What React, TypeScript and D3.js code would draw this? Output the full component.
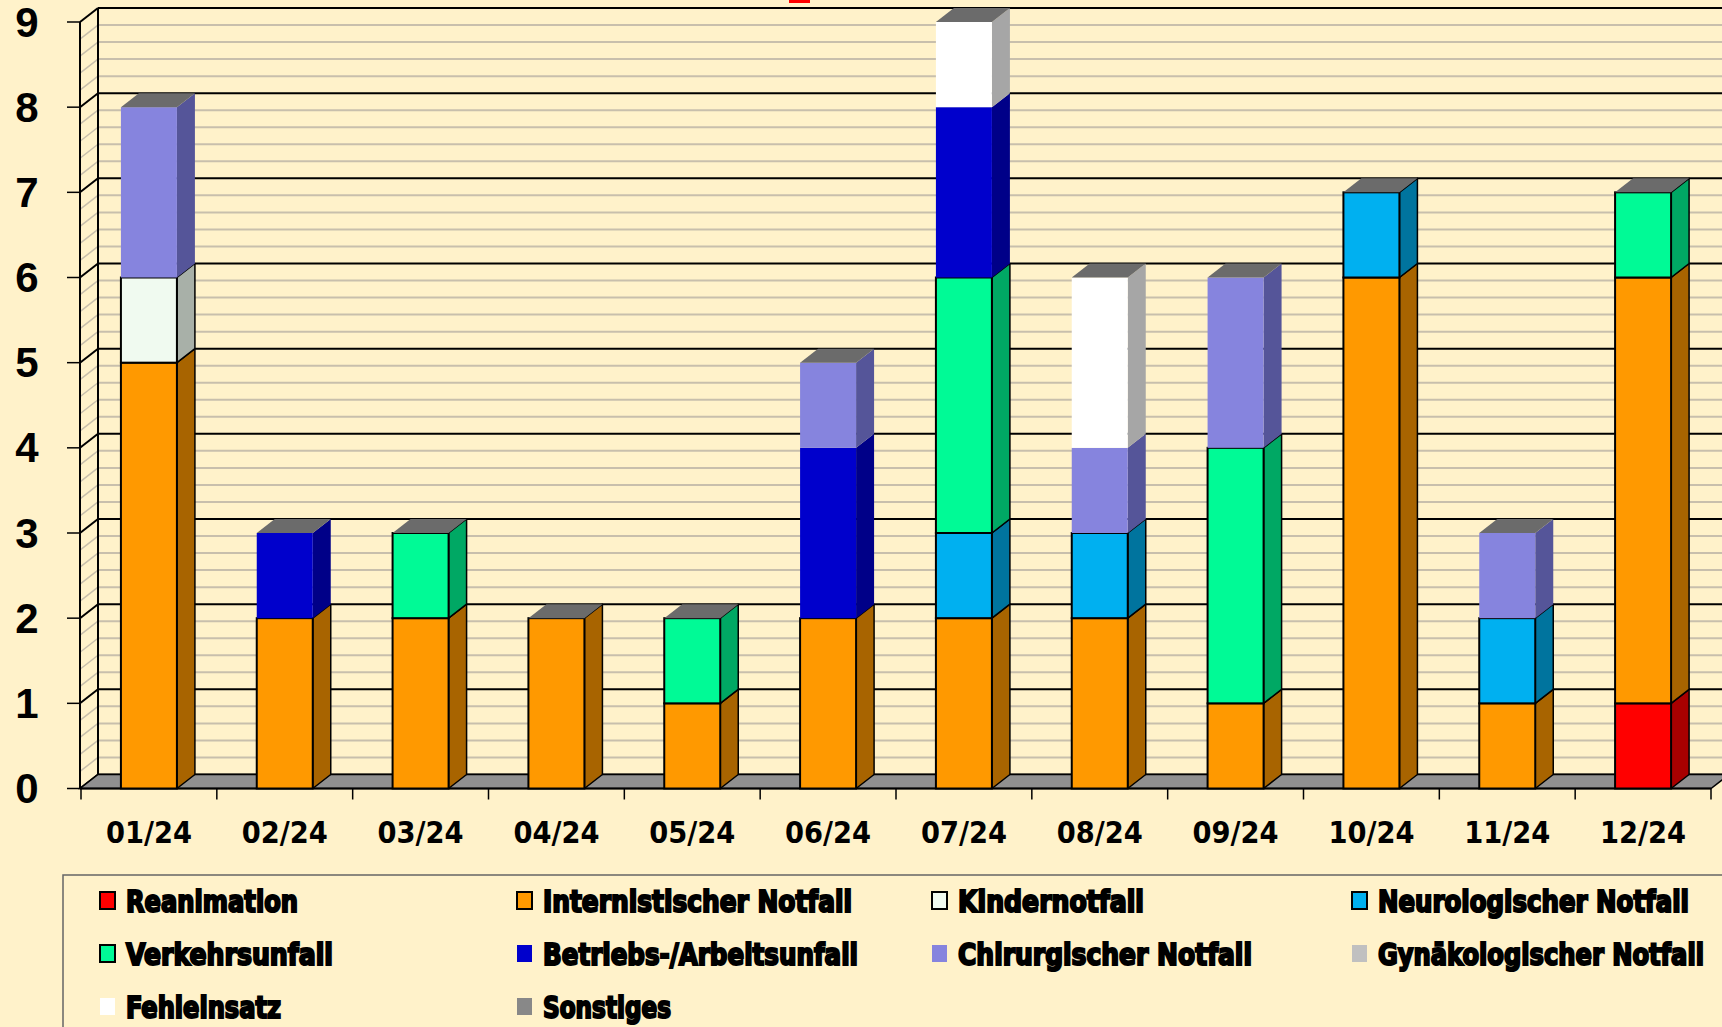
import React from "react";
import * as d3 from "d3";

const categories = ["01/24","02/24","03/24","04/24","05/24","06/24","07/24","08/24","09/24","10/24","11/24","12/24"];
const seriesNames = ["Reanimation","Internistischer Notfall","Kindernotfall","Neurologischer Notfall","Verkehrsunfall","Betriebs-/Arbeitsunfall","Chirurgischer Notfall","Gynäkologischer Notfall","Fehleinsatz","Sonstiges"];
const reanimation = [0,0,0,0,0,0,0,0,0,0,0,1];
const internist = [5,2,2,2,1,2,2,2,1,6,1,5];
const kinder = [1,0,0,0,0,0,0,0,0,0,0,0];
const neuro = [0,0,0,0,0,0,1,1,0,1,1,0];
const verkehr = [0,0,1,0,1,0,3,0,3,0,0,1];
const betrieb = [0,1,0,0,0,2,2,0,0,0,0,0];
const chirurg = [2,0,0,0,0,1,0,1,2,0,1,0];
const gyn = [0,0,0,0,0,0,0,0,0,0,0,0];
const fehl = [0,0,0,0,0,0,1,2,0,0,0,0];
const sonst = [0,0,0,0,0,0,0,0,0,0,0,0];
const seriesValues = [reanimation, internist, kinder, neuro, verkehr, betrieb, chirurg, gyn, fehl, sonst];
const frontColors = ["#FF0000","#FF9900","#F0FAF0","#00B0F0","#00FA96","#0000CC","#8684DE","#C0C0C0","#FFFFFF","#888888"];
const sideColors = ["#A80000","#A86400","#A8B0A8","#00749E","#00A864","#000088","#555599","#909090","#A6A6A6","#5A5A5A"];
const bordered = [true,true,true,true,true,false,false,false,false,false];
const yTicks = [0,1,2,3,4,5,6,7,8,9];
const legendWidths = [172,309,186,311,207,315,294,326,155,128];

export default function App() {
  const W = 1722, H = 1027;
  const DX = 18, DY = -14;
  const y = d3.scaleLinear().domain([0, 9]).range([788.5, 22]);
  const x = d3.scaleBand().domain(categories).range([81, 1711]);
  const bw = 56;
  const table = categories.map((c, i) => {
    const row: any = { cat: c };
    seriesNames.forEach((s, j) => (row[s] = seriesValues[j][i]));
    return row;
  });
  const stacked = d3.stack().keys(seriesNames)(table);
  const minor = d3.range(0, 9.0001, 0.2);
  const axisX = 80;
  const rightEnd = 1740;

  const bars: any[] = [];
  categories.forEach((c, i) => {
    const x0 = (x(c) as number) + x.bandwidth() / 2 - bw / 2;
    const x1 = x0 + bw;
    let topIdx = -1;
    stacked.forEach((s, j) => { if (s[i][1] > s[i][0]) topIdx = j; });
    stacked.forEach((s, j) => {
      const v0 = s[i][0], v1 = s[i][1];
      if (v1 <= v0) return;
      const yb = y(v0), yt = y(v1);
      const stroke = bordered[j] ? "#000" : "none";
      bars.push(
        <g key={c + j}>
          <polygon points={`${x1},${yb} ${x1 + DX},${yb + DY} ${x1 + DX},${yt + DY} ${x1},${yt}`} fill={sideColors[j]} stroke={stroke} strokeWidth={1.5} strokeLinejoin="round" />
          <rect x={x0} y={yt} width={bw} height={yb - yt} fill={frontColors[j]} stroke={stroke} strokeWidth={2} />
        </g>
      );
      if (j === topIdx) {
        bars.push(
          <polygon key={c + "top"} points={`${x0},${yt} ${x0 + DX},${yt + DY} ${x1 + DX},${yt + DY} ${x1},${yt}`} fill="#6B6B6B" />
        );
      }
    });
  });

  const legendCols = [100, 517, 932, 1352];
  const legendRows = [900, 953, 1006];

  return (
    <svg width={W} height={H} style={{ position: "absolute", left: 0, top: 0, display: "block" }}>
      <rect x={0} y={0} width={W} height={H} fill="#FFF2CA" />
      <rect x={789} y={0} width={21} height={3} fill="#FF0000" />
      {minor.map((v, k) => {
        const isMajor = Math.abs(v - Math.round(v)) < 1e-6;
        if (isMajor) return null;
        return (
          <g key={"m" + k}>
            <line x1={axisX + DX} x2={rightEnd} y1={y(v) + DY} y2={y(v) + DY} stroke="#C8BFAC" strokeWidth={2} />
            <line x1={axisX} x2={axisX + DX} y1={y(v)} y2={y(v) + DY} stroke="#C8BFAC" strokeWidth={1.5} />
          </g>
        );
      })}
      {yTicks.map((v) => (
        <g key={"M" + v}>
          <line x1={axisX + DX} x2={rightEnd} y1={y(v) + DY} y2={y(v) + DY} stroke="#000" strokeWidth={2} />
          <line x1={axisX} x2={axisX + DX} y1={y(v)} y2={y(v) + DY} stroke="#000" strokeWidth={2} />
          <line x1={67} x2={axisX} y1={y(v)} y2={y(v)} stroke="#000" strokeWidth={1.5} />
          <text x={27} y={y(v)} textAnchor="middle" dominantBaseline="central" fontFamily="Liberation Sans, Arial, sans-serif" fontWeight="bold" fontSize={42} fill="#000">{v}</text>
        </g>
      ))}
      <line x1={axisX} x2={axisX} y1={y(9)} y2={y(0)} stroke="#000" strokeWidth={2} />
      <line x1={axisX + DX} x2={axisX + DX} y1={y(9) + DY} y2={y(0) + DY} stroke="#000" strokeWidth={2} />
      <polygon points={`${axisX},${y(0)} ${axisX + DX},${y(0) + DY} ${1711 + DX},${y(0) + DY} ${1711},${y(0)}`} fill="#909090" stroke="#000" strokeWidth={1.5} />
      <line x1={axisX} x2={1711} y1={y(0)} y2={y(0)} stroke="#000" strokeWidth={2} />
      {categories.concat(["end"]).map((c, i) => {
        const xx = i < categories.length ? (x(c) as number) : 1711;
        return <line key={"xt" + i} x1={xx} x2={xx} y1={y(0)} y2={y(0) + 11} stroke="#000" strokeWidth={1.5} />;
      })}
      {bars}
      {categories.map((c) => (
        <text key={"xl" + c} x={(x(c) as number) + x.bandwidth() / 2} y={832} textAnchor="middle" dominantBaseline="central" fontFamily="Liberation Sans Narrow, DejaVu Sans Condensed, sans-serif" fontWeight="bold" fontSize={31} textLength={86} lengthAdjust="spacingAndGlyphs" fill="#000">{c}</text>
      ))}
      <rect x={63} y={875} width={1700} height={200} fill="none" stroke="#666" strokeWidth={1.5} />
      {seriesNames.map((s, j) => {
        const cx = legendCols[j % 4];
        const cy = legendRows[Math.floor(j / 4)];
        return (
          <g key={"lg" + s}>
            <rect x={cx} y={cy - 8} width={15} height={17} fill={frontColors[j]} stroke={bordered[j] ? "#000" : "none"} strokeWidth={2} />
            <text x={cx + 26} y={cy + 1} dominantBaseline="central" fontFamily="DejaVu Sans Condensed, DejaVu Sans, sans-serif" fontWeight="bold" fontSize={30} stroke="#000" strokeWidth={2} textLength={legendWidths[j]} lengthAdjust="spacingAndGlyphs" fill="#000">{s}</text>
          </g>
        );
      })}
    </svg>
  );
}
